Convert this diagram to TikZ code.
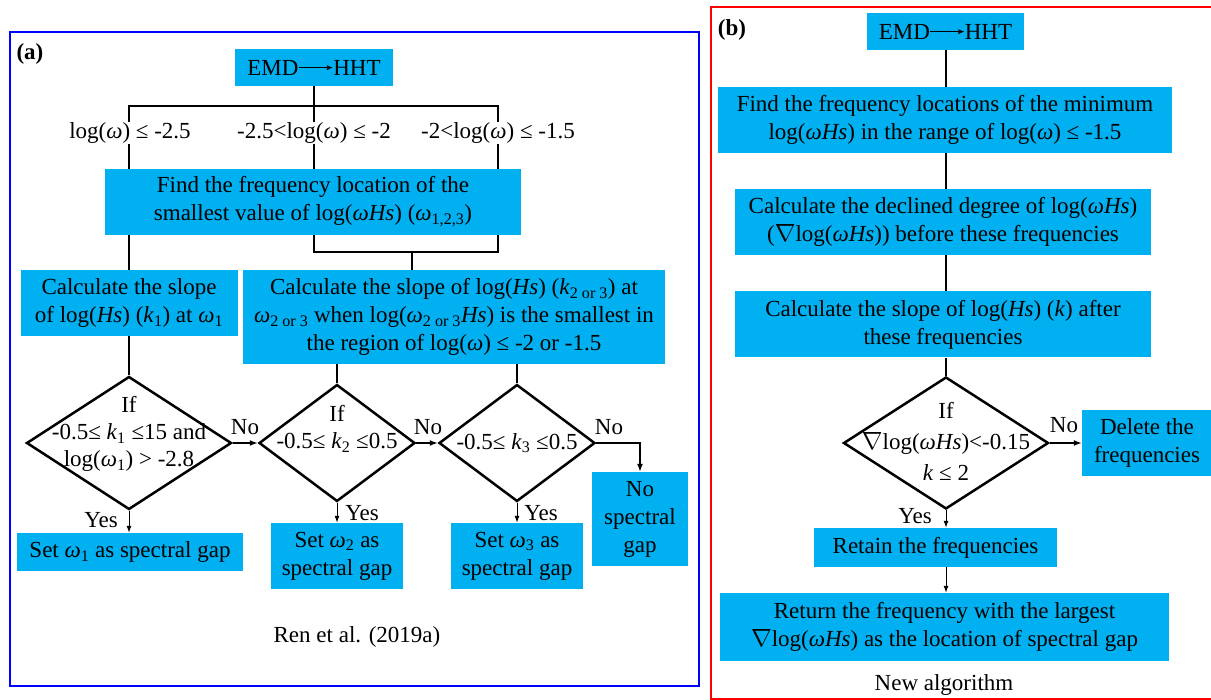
\documentclass[tikz,border=0pt]{standalone}
\usepackage{fontspec}
\setmainfont{Liberation Serif}
\usetikzlibrary{shapes.geometric,arrows.meta}
\definecolor{boxblue}{RGB}{0,176,240}
\newcommand\myom{\textit{ω}}
\newcommand\myHs{\textit{Hs}}
\newcommand\myk{\textit{k}}
\newcommand\mysub[1]{\textsubscript{#1}}
\newcommand\mynab{$\nabla$}
\newcommand\emdhht{EMD\tikz[baseline=0pt]\draw[line width=0.8pt,-{Latex[length=6pt,width=5pt]}] (0pt,0.32em) -- (34pt,0.32em);HHT}
\begin{document}
\begin{tikzpicture}[x=1pt,y=-1pt,
  font=\fontsize{23}{28}\selectfont,
  box/.style={fill=boxblue, draw=none, inner sep=0pt, align=center, text=black},
  dia/.style={diamond, draw=black, line width=2.5pt, inner sep=0pt, fill=white},
  conn/.style={line width=2.6pt, black, line join=miter},
  yesarrow/.style={line width=1pt, -{Latex[length=7pt,width=5pt]}},
  noarrow/.style={line width=1.5pt, -{Latex[length=8pt,width=6pt]}},
  lab/.style={inner sep=1pt, fill=white},
  dtext/.style={align=center, inner sep=0pt, font=\fontsize{23}{27}\selectfont}
]
\useasboundingbox (0,0) rectangle (1211,700);

% frames
\draw[blue, line width=2.7pt] (10,32) rectangle (699,686);
\draw[red, line width=2.2pt] (711,7) rectangle (1220,699);

% ---------------- panel (a) ----------------
\node[font=\fontsize{23}{28}\selectfont\bfseries] (tagA) at (30,54) {(a)};
\node[box, minimum width=158pt, minimum height=37pt] (emdA) at (314,67.5) {\emdhht};

\coordinate (busL) at (129,106);
\coordinate (busM) at (314,106);
\coordinate (busR) at (498,106);

\node[box, minimum width=416pt, minimum height=66pt] (findA) at (313,202)
  {Find the frequency location of the\\ smallest value of log(\myom\myHs) (\myom\mysub{1,2,3})};

\draw[conn] (emdA) -- (busM);
\draw[conn] (findA.north -| busL) -- (busL) -- (busR) -- (findA.north -| busR);
\draw[conn] (busM) -- (findA.north -| busM);

\node[lab] (l1) at (130,133) {log(\myom) ≤ -2.5};
\node[lab] (l2) at (314,133) {-2.5<log(\myom) ≤ -2};
\node[lab] (l3) at (498,133) {-2<log(\myom) ≤ -1.5};

\node[box, minimum width=217pt, minimum height=66pt] (calcL) at (129,303)
  {Calculate the slope\\ of log(\myHs) (\myk\mysub{1}) at \myom\mysub{1}};
\node[box, minimum width=422pt, minimum height=94pt] (calcR) at (454,317)
  {Calculate the slope of log(\myHs) (\myk\mysub{2 or 3}) at\\
   \myom\mysub{2 or 3} when log(\myom\mysub{2 or 3}\myHs) is the smallest in\\
   the region of log(\myom) ≤ -2 or -1.5};

\coordinate (brk1) at (314,252);
\coordinate (brk2) at (498,252);
\coordinate (brkM) at (412,252);
\draw[conn] (calcL.north |- findA.south) -- (calcL.north);
\draw[conn] (findA.south -| brk1) -- (brk1) -- (brk2) -- (findA.south -| brk2);
\draw[conn] (brkM) -- (brkM |- calcR.north);

% diamonds
\node[dia, minimum width=205pt, minimum height=133pt] (d1) at (129,443) {};
\node[dia, minimum width=156pt, minimum height=117pt] (d2) at (337,443) {};
\node[dia, minimum width=156pt, minimum height=117pt] (d3) at (517,443) {};
\node[dtext] (t1) at (129,434) {If\\-0.5≤ \myk\mysub{1} ≤15 and\\log(\myom\mysub{1}) > -2.8};
\node[dtext] (t2) at (337,429) {If\\-0.5≤ \myk\mysub{2} ≤0.5};
\node[dtext] (t3) at (517,443) {-0.5≤ \myk\mysub{3} ≤0.5};

\draw[conn] (calcL.south) -- (d1.north);
\draw[conn] (d2.north |- calcR.south) -- (d2.north);
\draw[conn] (d3.north |- calcR.south) -- (d3.north);

% result boxes
\node[box, minimum width=226pt, minimum height=38pt] (set1) at (130,552) {Set \myom\mysub{1} as spectral gap};
\node[box, minimum width=132pt, minimum height=66pt] (set2) at (337,556) {Set \myom\mysub{2} as\\spectral gap};
\node[box, minimum width=132pt, minimum height=66pt] (set3) at (517,556) {Set \myom\mysub{3} as\\spectral gap};
\node[box, minimum width=96pt, minimum height=94pt] (nogap) at (640,519) {No\\spectral\\gap};

\draw[noarrow] (d1.east) -- (d2.west);
\draw[noarrow] (d2.east) -- (d3.west);
\draw[noarrow] (d3.east) -| (nogap.north);
\node (no1) at (245,427) {No};
\node (no2) at (428,427) {No};
\node (no3) at (609,427) {No};

\draw[yesarrow] (d1.south) -- (d1.south |- set1.north);
\draw[yesarrow] (d2.south) -- (set2.north);
\draw[yesarrow] (d3.south) -- (set3.north);
\node (yes1) at (101,520) {Yes};
\node (yes2) at (362,513) {Yes};
\node (yes3) at (541,513) {Yes};

\node (capA) at (357,637) {Ren et al. (2019a)};

% ---------------- panel (b) ----------------
\node[font=\fontsize{23}{28}\selectfont\bfseries] (tagB) at (732,30) {(b)};
\node[box, minimum width=157pt, minimum height=37pt] (emdB) at (945.5,31.5) {\emdhht};
\node[box, minimum width=454pt, minimum height=66pt] (findB) at (945,120)
  {Find the frequency locations of the minimum\\ log(\myom\myHs) in the range of log(\myom) ≤ -1.5};
\node[box, minimum width=416pt, minimum height=66pt] (calcB1) at (943,222)
  {Calculate the declined degree of log(\myom\myHs)\\ (\mynab log(\myom\myHs)) before these frequencies};
\node[box, minimum width=416pt, minimum height=66pt] (calcB2) at (943,324.5)
  {Calculate the slope of log(\myHs) (\myk) after\\ these frequencies};
\node[dia, minimum width=205pt, minimum height=132pt] (dB) at (946,443) {};
\node[dtext, font=\fontsize{23}{31}\selectfont] (tB) at (946,441) {If\\\mynab log(\myom\myHs)<-0.15\\\myk\ ≤ 2};
\node[box, minimum width=130pt, minimum height=66pt] (delB) at (1147,443) {Delete the\\frequencies};
\node[box, minimum width=243pt, minimum height=39pt] (retB) at (935.5,547.5) {Retain the frequencies};
\node[box, minimum width=449pt, minimum height=68pt] (rtnB) at (944.5,627)
  {Return the frequency with the largest\\ \mynab log(\myom\myHs) as the location of spectral gap};

\draw[conn] (dB.north |- emdB.south) -- (dB.north |- findB.north);
\draw[conn] (dB.north |- findB.south) -- (dB.north |- calcB1.north);
\draw[conn] (dB.north |- calcB1.south) -- (dB.north |- calcB2.north);
\draw[conn] (dB.north |- calcB2.south) -- (dB.north);
\draw[noarrow] (dB.east) -- (delB.west);
\node (noB) at (1064,425) {No};
\draw[yesarrow] (dB.south) -- (dB.south |- retB.north);
\node (yesB) at (915,516) {Yes};
\draw[yesarrow] (dB.south |- retB.south) -- (dB.south |- rtnB.north);
\node (capB) at (944,685) {New algorithm};
\end{tikzpicture}
\end{document}
